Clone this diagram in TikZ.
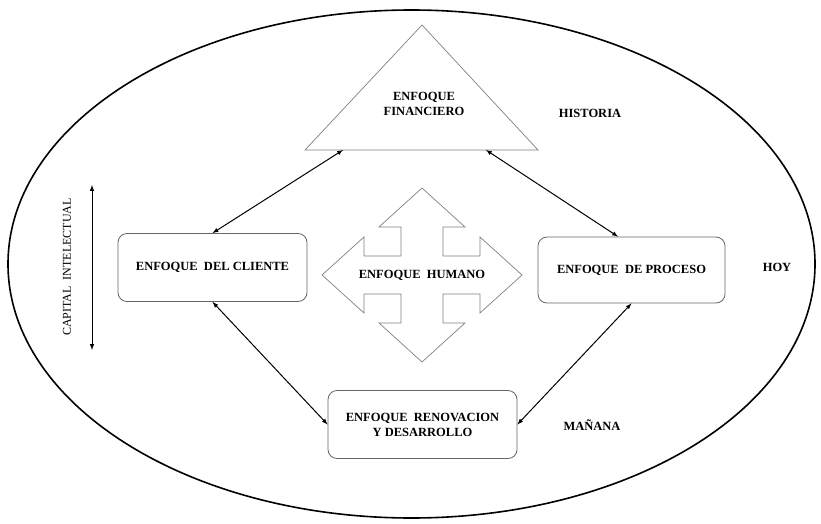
\documentclass[tikz,border=0pt]{standalone}
\usepackage{fontspec}
\setmainfont{Liberation Serif}
\usetikzlibrary{arrows}

\begin{document}
\begin{tikzpicture}[x=1pt,y=-1pt,
  caja/.style={draw=black!60, line width=0.8pt, rounded corners=9pt, minimum width=189pt, minimum height=68pt, align=center, font=\bfseries\fontsize{12.5}{15}\selectfont},
  rotulo/.style={font=\bfseries\fontsize{12.5}{15}\selectfont, align=center},
  flecha/.style={<->, >=latex, line width=1pt}]
\useasboundingbox (0,0) rectangle (821,524);
\draw [line width=1.6pt] (411.5,264) ellipse (403.5 and 254);

% triangulo
\draw [black!50, line width=0.7pt] (422,25) -- (538,150) -- (305,150) -- cycle;
\node [rotulo] (financiero) at (424,104) {ENFOQUE\\FINANCIERO};
\coordinate (finizq) at (343,150);
\coordinate (finder) at (486,150);

\node [caja] (cliente) at (212.5,267.5) {ENFOQUE\ \ DEL CLIENTE};
\node [caja, minimum width=187pt, minimum height=66pt] (proceso) at (631.5,270) {ENFOQUE\ \ DE PROCESO};
\node [caja] (renovacion) at (422.5,424.5) {ENFOQUE\ \ RENOVACION\\Y DESARROLLO};

% flecha de cuatro puntas
\draw [black!50, line width=0.7pt] (322,275) -- (364,237) -- (364,256) -- (401,256) -- (401,227) -- (379,227)
  -- (422,188) -- (465,227) -- (443,227) -- (443,256) -- (480,256) -- (480,237)
  -- (522,275) -- (480,313) -- (480,294) -- (443,294) -- (443,323) -- (465,323)
  -- (422,362) -- (379,323) -- (401,323) -- (401,294) -- (364,294) -- (364,313) -- cycle;
\node [rotulo] (humano) at (422,275) {ENFOQUE\ \ HUMANO};

\node [rotulo] (historia) at (590,113) {HISTORIA};
\node [rotulo] (hoy) at (777,267) {HOY};
\node [rotulo] (manana) at (592,425) {MAÑANA};

\node [rotate=90, font=\fontsize{12}{14}\selectfont] (capital) at (67,267) {CAPITAL\ \ INTELECTUAL};
\coordinate (capsup) at (92,185);
\coordinate (capinf) at (92,350);
\draw [flecha] (capsup) -- (capinf);

\draw [flecha] (finizq) -- (cliente.north);
\draw [flecha] (finder) -- (proceso.112);
\draw [flecha] (cliente.south) -- (renovacion.west);
\draw [flecha] (proceso.south) -- (renovacion.east);
\end{tikzpicture}
\end{document}
